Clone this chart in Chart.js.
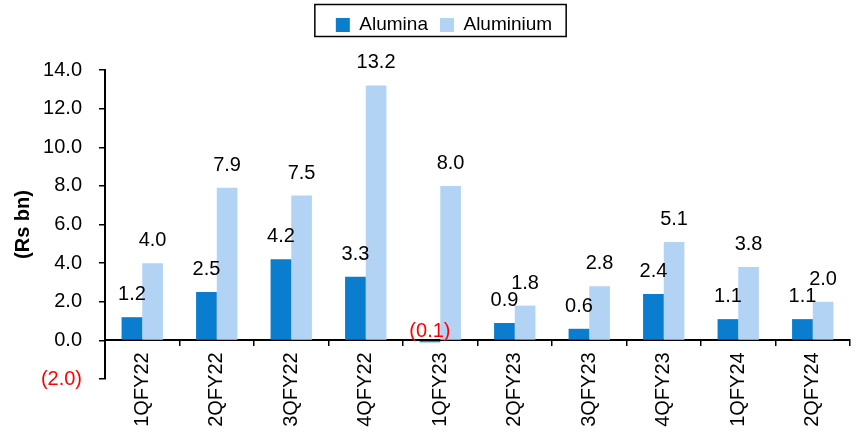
<!DOCTYPE html>
<html lang="en">
<head>
  <meta charset="UTF-8" />
  <title>Alumina / Aluminium EBITDA</title>
  <style>
body {
    margin: 0;
    background: #ffffff;
}
canvas {
    display: block;
}
  </style>
</head>
<body>
  <canvas id="segChart" width="859" height="437"></canvas>

  <script src="https://cdn.jsdelivr.net/npm/chart.js"></script>
  <script>
    // quarterly figures, Rs bn
    const quarters = ['1QFY22', '2QFY22', '3QFY22', '4QFY22', '1QFY23', '2QFY23', '3QFY23', '4QFY23', '1QFY24', '2QFY24'];
    const alumina = [1.2, 2.5, 4.2, 3.3, -0.1, 0.9, 0.6, 2.4, 1.1, 1.1];
    const aluminium = [4.0, 7.9, 7.5, 13.2, 8.0, 1.8, 2.8, 5.1, 3.8, 2.0];
    const yMin = -2, yMax = 14, yStep = 2;

    const FONT = '"Liberation Sans", Arial, sans-serif';

    // negatives shown in brackets, like the source sheet
    function fmt(v) {
      return v < 0 ? '(' + Math.abs(v).toFixed(1) + ')' : v.toFixed(1);
    }

    // legend sits higher than the layout puts it, with a box round it
    const legendBox = {
      id: 'legendBox',
      afterLayout(chart) {
        const lg = chart.legend;
        lg.top -= 25.5; lg.bottom -= 25.5;
        lg.left += 19; lg.right += 19;
      },
      afterDraw(chart) {
        const lg = chart.legend;
        const pad = lg.options.labels.padding;
        const rowW = lg.lineWidths[0];
        const start = (lg.left + pad + lg.right - rowW) / 2;
        const end = start + rowW - pad;
        const mid = lg.top + pad + 19 / 2;
        const ctx = chart.ctx;
        ctx.save();
        ctx.strokeStyle = '#000';
        ctx.lineWidth = 1.5;
        ctx.strokeRect(start - 21, mid - 20.5, end - start + 35, 32);
        ctx.restore();
      }
    };

    const valueLabels = {
      id: 'valueLabels',
      afterDatasetsDraw(chart) {
        const ctx = chart.ctx;
        ctx.save();
        ctx.font = '20px ' + FONT;
        ctx.textAlign = 'center';
        ctx.textBaseline = 'alphabetic';
        chart.data.datasets.forEach((ds, i) => {
          chart.getDatasetMeta(i).data.forEach((bar, j) => {
            const v = ds.data[j];
            const y = v < 0 ? bar.base - 4 : bar.y - 17;
            ctx.fillStyle = v < 0 ? '#ff0000' : '#000000';
            ctx.fillText(fmt(v), bar.x, y);
          });
        });
        ctx.restore();
      }
    };

    new Chart(document.getElementById('segChart'), {
      type: 'bar',
      data: {
        labels: quarters,
        datasets: [
          { label: 'Alumina', data: alumina, backgroundColor: '#0a7dcf', borderWidth: 0 },
          { label: 'Aluminium', data: aluminium, backgroundColor: '#b3d3f4', borderWidth: 0 }
        ]
      },
      options: {
        responsive: false,
        animation: false,
        categoryPercentage: 0.555,
        barPercentage: 1.0,
        layout: { padding: { left: 0, right: 9, top: 29, bottom: 58 } },
        plugins: {
          tooltip: { enabled: false },
          legend: {
            position: 'top',
            labels: {
              boxWidth: 14,
              boxHeight: 14,
              padding: 12,
              color: '#000',
              font: { family: FONT, size: 19 }
            }
          }
        },
        scales: {
          x: {
            position: { y: 0 },
            grid: { drawOnChartArea: false, drawTicks: true, tickLength: 5, color: '#000', lineWidth: 1.5 },
            border: { display: true, color: '#000', width: 2 },
            ticks: {
              color: '#000',
              minRotation: 90,
              maxRotation: 90,
              padding: 7,
              autoSkip: false,
              font: { family: FONT, size: 20 }
            }
          },
          y: {
            min: yMin,
            max: yMax,
            afterFit(scale) { scale.width = 105; },
            grid: { drawOnChartArea: false, drawTicks: true, tickLength: 6, color: '#000', lineWidth: 1.5 },
            border: { display: true, color: '#000', width: 2 },
            ticks: {
              stepSize: yStep,
              padding: 17,
              color: (c) => c.tick.value < 0 ? '#ff0000' : '#000000',
              font: { family: FONT, size: 20 },
              callback: (v) => fmt(v)
            },
            title: {
              display: true,
              text: '(Rs bn)',
              color: '#000',
              font: { family: FONT, size: 20, weight: 'bold' },
              padding: { top: 11, bottom: 0 }
            }
          }
        }
      },
      plugins: [legendBox, valueLabels]
    });
  </script>
</body>
</html>
